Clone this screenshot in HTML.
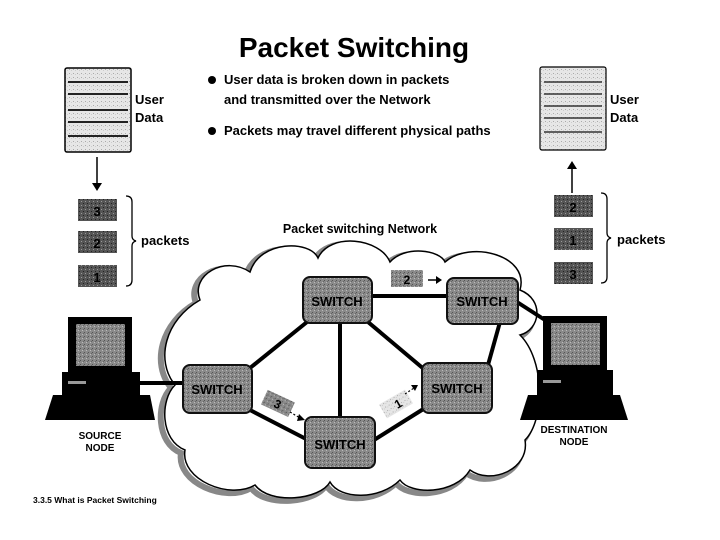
<!DOCTYPE html>
<html><head><meta charset="utf-8">
<style>
html,body{margin:0;padding:0;background:#fff;}
svg{display:block;}
text{font-family:"Liberation Sans",sans-serif;font-weight:bold;fill:#000;}
</style></head>
<body>
<svg width="720" height="540" viewBox="0 0 720 540" xmlns="http://www.w3.org/2000/svg">
<defs>
<pattern id="g" width="4" height="4" patternUnits="userSpaceOnUse">
<rect width="4" height="4" fill="#8a8a8a"/><rect x="0" y="0" width="1" height="1" fill="#555"/><rect x="2" y="2" width="1" height="1" fill="#bbb"/><rect x="3" y="1" width="1" height="1" fill="#666"/>
</pattern>
<pattern id="d" width="4" height="4" patternUnits="userSpaceOnUse">
<rect width="4" height="4" fill="#555"/><rect x="1" y="1" width="1" height="1" fill="#999"/><rect x="3" y="3" width="1" height="1" fill="#222"/>
</pattern>
<pattern id="l" width="4" height="4" patternUnits="userSpaceOnUse">
<rect width="4" height="4" fill="#e6e6e6"/><rect x="1" y="1" width="1" height="1" fill="#aaa"/><rect x="3" y="2" width="1" height="1" fill="#ccc"/>
</pattern>
<path id="cloud" d="M200 300 C190 275 225 255 250 272 C260 240 310 240 318 258 C330 232 380 238 390 262 C405 245 440 250 445 262 C470 240 530 255 520 290 C545 300 540 330 520 335 C545 360 545 420 525 440 C530 470 490 485 470 470 C455 495 410 495 400 480 C380 500 340 500 330 482 C320 500 270 505 255 485 C230 500 180 480 185 450 C160 440 160 400 175 385 C155 360 165 320 200 300 Z"/>
</defs>

<text x="354" y="57" font-size="28" text-anchor="middle">Packet Switching</text>
<circle cx="212" cy="80" r="4"/>
<text x="224" y="84" font-size="13">User data is broken down in packets</text>
<text x="224" y="104" font-size="13">and transmitted over the Network</text>
<circle cx="212" cy="131" r="4"/>
<text x="224" y="135" font-size="13">Packets may travel different physical paths</text>

<!-- left user data -->
<rect x="65" y="68" width="66" height="84" rx="2" fill="url(#l)" stroke="#000" stroke-width="1.5"/>
<g stroke="#222" stroke-width="2" fill="none">
<path d="M68 82 h60"/><path d="M68 94 h60"/><path d="M68 110 h60"/><path d="M68 122 h60"/><path d="M68 136 h60"/>
</g>
<text x="135" y="104" font-size="13">User</text>
<text x="135" y="122" font-size="13">Data</text>
<line x1="97" y1="157" x2="97" y2="185" stroke="#000" stroke-width="1.5"/>
<polygon points="92,183 102,183 97,191" fill="#000"/>
<rect x="78" y="199" width="39" height="22" fill="url(#d)"/>
<text x="97" y="216" font-size="13" text-anchor="middle" fill="#333">3</text>
<rect x="78" y="231" width="39" height="22" fill="url(#d)"/>
<text x="97" y="248" font-size="13" text-anchor="middle" fill="#333">2</text>
<rect x="78" y="265" width="39" height="22" fill="url(#d)"/>
<text x="97" y="282" font-size="13" text-anchor="middle" fill="#333">1</text>
<path d="M126 196 q6 0 6 6 v34 q0 4 4 5 q-4 1 -4 5 v34 q0 6 -6 6" fill="none" stroke="#000" stroke-width="1.3"/>
<text x="141" y="245" font-size="13">packets</text>

<!-- right user data -->
<rect x="540" y="67" width="66" height="83" rx="2" fill="url(#l)" stroke="#000" stroke-width="1.2"/>
<g stroke="#333" stroke-width="1.5" fill="none">
<path d="M544 82 h58"/><path d="M544 94 h58"/><path d="M544 106 h58"/><path d="M544 118 h58"/><path d="M544 132 h58"/>
</g>
<text x="610" y="104" font-size="13">User</text>
<text x="610" y="122" font-size="13">Data</text>
<line x1="572" y1="193" x2="572" y2="167" stroke="#000" stroke-width="1.5"/>
<polygon points="567,169 577,169 572,161" fill="#000"/>
<rect x="554" y="195" width="39" height="22" fill="url(#d)"/>
<text x="573" y="212" font-size="13" text-anchor="middle" fill="#333">2</text>
<rect x="554" y="228" width="39" height="22" fill="url(#d)"/>
<text x="573" y="245" font-size="13" text-anchor="middle" fill="#333">1</text>
<rect x="554" y="262" width="39" height="22" fill="url(#d)"/>
<text x="573" y="279" font-size="13" text-anchor="middle" fill="#333">3</text>
<path d="M601 193 q6 0 6 6 v34 q0 4 4 5 q-4 1 -4 5 v34 q0 6 -6 6" fill="none" stroke="#000" stroke-width="1.3"/>
<text x="617" y="244" font-size="13">packets</text>

<text x="360" y="233" font-size="12.5" text-anchor="middle">Packet switching Network</text>

<!-- cloud -->
<use href="#cloud" transform="translate(-4,3)" fill="none" stroke="#888" stroke-width="6"/>
<use href="#cloud" fill="#fff" stroke="#000" stroke-width="1.5"/>

<!-- links -->
<g stroke="#000" stroke-width="4">
<line x1="130" y1="383" x2="185" y2="383"/>
<line x1="372" y1="296" x2="448" y2="296"/>
<line x1="250" y1="368" x2="307" y2="322"/>
<line x1="340" y1="322" x2="340" y2="418"/>
<line x1="368" y1="322" x2="425" y2="370"/>
<line x1="250" y1="410" x2="308" y2="440"/>
<line x1="374" y1="440" x2="425" y2="408"/>
<line x1="488" y1="365" x2="500" y2="322"/>
<line x1="517" y1="302" x2="545" y2="320"/>
</g>

<!-- switches -->
<g stroke="#111" stroke-width="2">
<rect x="303" y="277" width="69" height="46" rx="7" fill="url(#g)"/>
<rect x="447" y="278" width="71" height="46" rx="7" fill="url(#g)"/>
<rect x="183" y="365" width="69" height="48" rx="7" fill="url(#g)"/>
<rect x="305" y="417" width="70" height="51" rx="7" fill="url(#g)"/>
<rect x="422" y="363" width="70" height="50" rx="7" fill="url(#g)"/>
</g>
<g font-size="13" text-anchor="middle">
<text x="337" y="306">SWITCH</text>
<text x="482" y="306">SWITCH</text>
<text x="217" y="394">SWITCH</text>
<text x="340" y="449">SWITCH</text>
<text x="457" y="393">SWITCH</text>
</g>

<!-- moving packets -->
<rect x="391" y="270" width="32" height="17" fill="url(#g)"/>
<text x="407" y="284" font-size="12" text-anchor="middle">2</text>
<line x1="428" y1="280" x2="437" y2="280" stroke="#000" stroke-width="1.5"/>
<polygon points="436,276 442,280 436,284"/>
<g transform="translate(277,403) rotate(25)">
<rect x="-14" y="-8" width="30" height="16" fill="url(#g)"/>
<text x="1" y="5" font-size="12" text-anchor="middle">3</text>
</g>
<line x1="290" y1="412" x2="300" y2="418" stroke="#000" stroke-width="1.2" stroke-dasharray="2,2"/>
<polygon points="299,414 305,420 297,421"/>
<g transform="translate(396,404) rotate(-30)">
<rect x="-15" y="-8" width="30" height="16" fill="url(#l)"/>
<text x="2" y="5" font-size="12" text-anchor="middle">1</text>
</g>
<line x1="405" y1="394" x2="414" y2="388" stroke="#000" stroke-width="1.2" stroke-dasharray="2,2"/>
<polygon points="411,385 418,385 415,391"/>

<!-- source computer -->
<rect x="68" y="317" width="64" height="55" fill="#000"/>
<rect x="76" y="324" width="49" height="42" fill="url(#g)"/>
<rect x="62" y="372" width="78" height="23" fill="#000"/>
<rect x="68" y="381" width="18" height="3" fill="#999"/>
<polygon points="53,395 150,395 155,420 45,420" fill="#000"/>
<text x="100" y="439" font-size="10" text-anchor="middle">SOURCE</text>
<text x="100" y="451" font-size="10" text-anchor="middle">NODE</text>

<!-- destination computer -->
<rect x="543" y="316" width="64" height="54" fill="#000"/>
<rect x="551" y="323" width="49" height="42" fill="url(#g)"/>
<rect x="537" y="370" width="76" height="25" fill="#000"/>
<rect x="543" y="380" width="18" height="3" fill="#999"/>
<polygon points="528,395 620,395 628,420 520,420" fill="#000"/>
<text x="574" y="433" font-size="10" text-anchor="middle">DESTINATION</text>
<text x="574" y="445" font-size="10" text-anchor="middle">NODE</text>

<text x="33" y="503" font-size="8.5">3.3.5  What is Packet Switching</text>
</svg>
</body></html>
